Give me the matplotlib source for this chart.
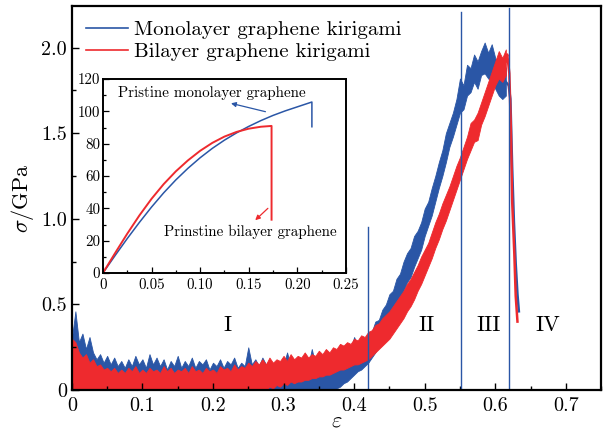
import numpy as np
import matplotlib
matplotlib.use('Agg')
import matplotlib.pyplot as plt
from matplotlib.ticker import MultipleLocator

plt.rcParams['font.family'] = 'cmr10'
plt.rcParams['mathtext.fontset'] = 'cm'
plt.rcParams['axes.unicode_minus'] = False

BLUE = '#2a56a6'
RED = '#ee2a2e'

# ---------------- main data (strain sampled every 0.005 from 0 to 0.615) ----------------
strain = np.round(np.arange(0, 0.6151, 0.005), 3)

mono_hi = [0.30, 0.46, 0.28, 0.33, 0.24, 0.31, 0.22, 0.18, 0.21, 0.16,
           0.20, 0.15, 0.19, 0.14, 0.17, 0.13, 0.18, 0.14, 0.20, 0.15,
           0.18, 0.13, 0.21, 0.15, 0.19, 0.14, 0.18, 0.12, 0.17, 0.14,
           0.20, 0.13, 0.17, 0.14, 0.19, 0.13, 0.17, 0.15, 0.18, 0.12,
           0.16, 0.14, 0.18, 0.13, 0.17, 0.15, 0.19, 0.13, 0.16, 0.14,
           0.25, 0.15, 0.18, 0.14, 0.19, 0.15, 0.17, 0.14, 0.16, 0.13,
           0.15, 0.22, 0.14, 0.11, 0.15, 0.12, 0.20, 0.14, 0.24, 0.15,
           0.21, 0.17, 0.23, 0.18, 0.22, 0.20, 0.26, 0.22, 0.27, 0.24,
           0.31, 0.26, 0.30, 0.28, 0.33, 0.34, 0.40, 0.41, 0.47, 0.50,
           0.56, 0.58, 0.65, 0.68, 0.75, 0.80, 0.83, 0.90, 0.93, 0.98,
           1.06, 1.10, 1.18, 1.25, 1.33, 1.40, 1.50, 1.56, 1.62, 1.70,
           1.82, 1.78, 1.90, 1.88, 1.96, 1.92, 1.98, 2.03, 1.97, 2.02,
           1.94, 1.90, 1.94, 1.88]
mono_lo = [0.0] * 70 + [
           0.00, 0.00, 0.00, 0.00, 0.00, 0.01, 0.02, 0.04, 0.05, 0.07,
           0.09, 0.11, 0.12, 0.14, 0.16, 0.19, 0.22, 0.26, 0.30, 0.34,
           0.39, 0.43, 0.48, 0.53, 0.58, 0.63, 0.66, 0.72, 0.77, 0.82,
           0.90, 0.96, 1.02, 1.10, 1.18, 1.25, 1.33, 1.42, 1.48, 1.55,
           1.62, 1.64, 1.72, 1.74, 1.80, 1.76, 1.84, 1.85, 1.82, 1.80,
           1.76, 1.72, 1.70, 1.72]
bi_hi = [0.30, 0.28, 0.22, 0.19, 0.21, 0.16, 0.18, 0.14, 0.15, 0.12,
         0.13, 0.11, 0.13, 0.10, 0.12, 0.10, 0.13, 0.11, 0.14, 0.10,
         0.12, 0.10, 0.13, 0.11, 0.12, 0.10, 0.14, 0.11, 0.13, 0.10,
         0.12, 0.11, 0.13, 0.10, 0.14, 0.11, 0.12, 0.10, 0.13, 0.11,
         0.12, 0.10, 0.14, 0.12, 0.13, 0.11, 0.15, 0.12, 0.14, 0.13,
         0.16, 0.14, 0.17, 0.15, 0.18, 0.15, 0.19, 0.16, 0.18, 0.17,
         0.20, 0.17, 0.21, 0.18, 0.20, 0.19, 0.22, 0.19, 0.21, 0.20,
         0.23, 0.21, 0.24, 0.22, 0.25, 0.24, 0.27, 0.26, 0.28, 0.27,
         0.30, 0.29, 0.32, 0.31, 0.34, 0.35, 0.38, 0.39, 0.42, 0.44,
         0.46, 0.49, 0.52, 0.55, 0.58, 0.62, 0.65, 0.69, 0.73, 0.78,
         0.82, 0.86, 0.92, 0.98, 1.03, 1.09, 1.14, 1.19, 1.25, 1.31,
         1.36, 1.42, 1.48, 1.56, 1.58, 1.62, 1.68, 1.74, 1.80, 1.86,
         1.92, 1.98, 1.94, 1.99]
bi_lo = [0.0] * 50 + [
         0.00, 0.00, 0.00, 0.00, 0.01, 0.00, 0.02, 0.01, 0.03, 0.02,
         0.04, 0.03, 0.05, 0.04, 0.05, 0.05, 0.06, 0.06, 0.07, 0.07,
         0.08, 0.08, 0.09, 0.09, 0.10, 0.11, 0.12, 0.12, 0.13, 0.14,
         0.15, 0.15, 0.16, 0.17, 0.18, 0.20, 0.22, 0.24, 0.26, 0.28,
         0.30, 0.33, 0.36, 0.39, 0.42, 0.46, 0.49, 0.53, 0.58, 0.62,
         0.67, 0.72, 0.77, 0.83, 0.88, 0.94, 0.99, 1.05, 1.11, 1.17,
         1.23, 1.29, 1.35, 1.40, 1.45, 1.46, 1.55, 1.60, 1.66, 1.72,
         1.78, 1.82, 1.80, 1.84]

# fracture tails
mono_tail_x = [0.615, 0.619, 0.6215, 0.624, 0.6265, 0.629, 0.6315, 0.6335]
mono_tail_y = [1.80, 1.78, 1.70, 1.30, 0.98, 0.74, 0.56, 0.46]
bi_tail_x = [0.615, 0.617, 0.620, 0.622, 0.624, 0.627, 0.629, 0.6315]
bi_tail_y = [1.92, 1.96, 1.85, 1.55, 1.10, 0.80, 0.55, 0.40]

# stage boundaries (x, top)
boundary_x = [0.42, 0.552, 0.619]
boundary_top = [0.95, 2.21, 2.23]
stage_labels = ['I', 'II', 'III', 'IV']
stage_x = [0.221, 0.503, 0.59, 0.674]
stage_y = [0.38, 0.38, 0.38, 0.38]

# main ticks
main_xticks = [0, 0.1, 0.2, 0.3, 0.4, 0.5, 0.6, 0.7]
main_xlabels = ['0', '0.1', '0.2', '0.3', '0.4', '0.5', '0.6', '0.7']
main_yticks = [0, 0.5, 1.0, 1.5, 2.0]
main_ylabels = ['0', '0.5', '1.0', '1.5', '2.0']

# ---------------- inset data ----------------
in_mono_x = [0, 0.0125, 0.025, 0.0375, 0.05, 0.0625, 0.075, 0.0875, 0.1, 0.1125,
             0.125, 0.1375, 0.15, 0.1625, 0.175, 0.1875, 0.2, 0.2075, 0.215, 0.215]
in_mono_y = [0, 10.8, 21.3, 31.3, 40.8, 49.6, 57.6, 64.8, 71.3, 77.1,
             82.2, 86.7, 90.7, 94.3, 97.5, 100.3, 102.8, 104.3, 105.8, 90.5]
in_bi_x = [0, 0.0125, 0.025, 0.0375, 0.05, 0.0625, 0.075, 0.0875, 0.1, 0.1125,
           0.125, 0.1375, 0.15, 0.1625, 0.1735, 0.1735]
in_bi_y = [0, 12.3, 24.3, 35.6, 45.9, 55.0, 62.9, 69.7, 75.6, 80.5,
           84.4, 87.3, 89.3, 90.5, 91.0, 33]
in_xticks = [0, 0.05, 0.10, 0.15, 0.20, 0.25]
in_xlabels = ['0', '0.05', '0.10', '0.15', '0.20', '0.25']
in_yticks = [0, 20, 40, 60, 80, 100, 120]
in_ylabels = ['0', '20', '40', '60', '80', '100', '120']

# ---------------- figure ----------------
fig = plt.figure(figsize=(6.09, 4.32), dpi=100)
ax = fig.add_axes([0.118, 0.097, 0.869, 0.889])

ax.fill_between(strain, mono_lo, mono_hi, color=BLUE, lw=0.6, edgecolor=BLUE)
ax.plot(mono_tail_x, mono_tail_y, color=BLUE, lw=1.8)
ax.fill_between(strain, bi_lo, bi_hi, color=RED, lw=0.6, edgecolor=RED)
ax.plot(bi_tail_x, bi_tail_y, color=RED, lw=1.8)

ax.plot([], [], color=BLUE, lw=1.2, label='Monolayer graphene kirigami')
ax.plot([], [], color=RED, lw=1.2, label='Bilayer graphene kirigami')

for bx, bt in zip(boundary_x, boundary_top):
    ax.plot([bx, bx], [0, bt], color=BLUE, lw=1.0)

for lab, sx, sy in zip(stage_labels, stage_x, stage_y):
    ax.text(sx, sy, lab, fontsize=16, ha='center', va='center')

ax.set_xlim(0, 0.75)
ax.set_ylim(0, 2.243)
ax.set_xticks(main_xticks, main_xlabels)
ax.set_yticks(main_yticks, main_ylabels)
ax.xaxis.set_minor_locator(MultipleLocator(0.05))
ax.yaxis.set_minor_locator(MultipleLocator(0.25))
ax.tick_params(which='both', direction='in', top=False, right=False, labelsize=14.5)
ax.tick_params(which='major', length=5, width=1)
ax.tick_params(which='minor', length=3, width=1)
ax.tick_params(axis='x', pad=5)
for s in ax.spines.values():
    s.set_linewidth(1.6)
ax.set_xlabel(r'$\varepsilon$', fontsize=16, labelpad=-3)
ax.set_ylabel(r'$\sigma$/GPa', fontsize=16, labelpad=4)

ax.legend(loc='upper left', frameon=False, fontsize=15, handlelength=2.0,
          handletextpad=0.3, labelspacing=0.15, borderaxespad=0.3,
          bbox_to_anchor=(0.0, 1.0))

# inset
ins = fig.add_axes([0.169, 0.368, 0.399, 0.449])
ins.plot(in_mono_x, in_mono_y, color=BLUE, lw=1.1)
ins.plot(in_bi_x, in_bi_y, color=RED, lw=1.4)
ins.set_xlim(0, 0.25)
ins.set_ylim(0, 120)
ins.set_xticks(in_xticks, in_xlabels)
ins.set_yticks(in_yticks, in_ylabels)
ins.xaxis.set_minor_locator(MultipleLocator(0.025))
ins.yaxis.set_minor_locator(MultipleLocator(10))
ins.tick_params(which='both', direction='in', top=False, right=False, labelsize=10.8, pad=2)
ins.tick_params(which='major', length=4, width=0.9)
ins.tick_params(which='minor', length=2.5, width=0.9)
ins.tick_params(axis='x', pad=4)
for s in ins.spines.values():
    s.set_linewidth(1.4)

ins.annotate('', xy=(0.129, 105.4), xytext=(0.170, 99.4),
             arrowprops=dict(arrowstyle='-|>', color=BLUE, lw=0.9, mutation_scale=7))
ins.text(0.112, 111.6, 'Pristine monolayer graphene', fontsize=10.8, ha='center', va='center')
ins.annotate('', xy=(0.1546, 31.5), xytext=(0.1718, 41.2),
             arrowprops=dict(arrowstyle='-|>', color=RED, lw=0.9, mutation_scale=7))
ins.text(0.1517, 25.7, 'Prinstine bilayer graphene', fontsize=10.8, ha='center', va='center')

fig.savefig('out.png', dpi=100)
